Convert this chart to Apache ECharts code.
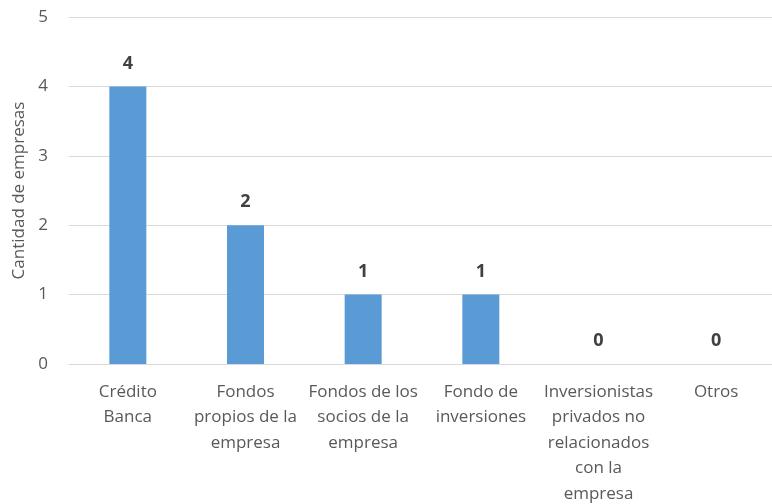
<!DOCTYPE html>
<html>
<head>
<meta charset="utf-8">
<script src="https://cdn.jsdelivr.net/npm/echarts@6/dist/echarts.min.js"></script>
<style>
  html, body { margin: 0; padding: 0; background: #fff; }
  #chart { width: 772px; height: 504px; }
</style>
</head>
<body>
<div id="chart"></div>
<script>
// categorías (con saltos de línea como en el original)
var categories = [
  'Crédito\nBanca',
  'Fondos\npropios de la\nempresa',
  'Fondos de los\nsocios de la\nempresa',
  'Fondo de\ninversiones',
  'Inversionistas\nprivados no\nrelacionados\ncon la\nempresa',
  'Otros'
];
var values = [4, 2, 1, 1, 0, 0];
var yTicks = [0, 1, 2, 3, 4, 5];

var font = 'Open Sans';
var chart = echarts.init(document.getElementById('chart'));
chart.setOption({
  animation: false,
  grid: {
    left: 69,
    top: 17,
    width: 706,
    bottom: 140,
    outerBoundsMode: 'none'
  },
  xAxis: {
    type: 'category',
    data: categories,
    axisLine: { lineStyle: { color: '#d9d9d9', width: 1 } },
    axisTick: { show: false },
    axisLabel: {
      interval: 0,
      margin: 15,
      color: '#595959',
      fontFamily: font,
      fontSize: 17,
      lineHeight: 25.5
    }
  },
  yAxis: {
    type: 'value',
    min: yTicks[0],
    max: yTicks[yTicks.length - 1],
    interval: 1,
    name: 'Cantidad de empresas',
    nameLocation: 'middle',
    nameGap: 40,
    nameRotate: 90,
    nameTextStyle: { color: '#595959', fontFamily: font, fontSize: 17 },
    axisLine: { show: false },
    axisTick: { show: false },
    axisLabel: {
      margin: 21,
      color: '#595959',
      fontFamily: font,
      fontSize: 17
    },
    splitLine: { lineStyle: { color: '#d9d9d9', width: 1 } }
  },
  series: [
    {
      type: 'bar',
      data: values,
      barWidth: 37,
      itemStyle: { color: '#5b9bd5' },
      label: {
        show: true,
        position: 'top',
        distance: 14,
        color: '#404040',
        fontFamily: font,
        fontWeight: 'bold',
        fontSize: 18
      }
    }
  ]
});
</script>
</body>
</html>
